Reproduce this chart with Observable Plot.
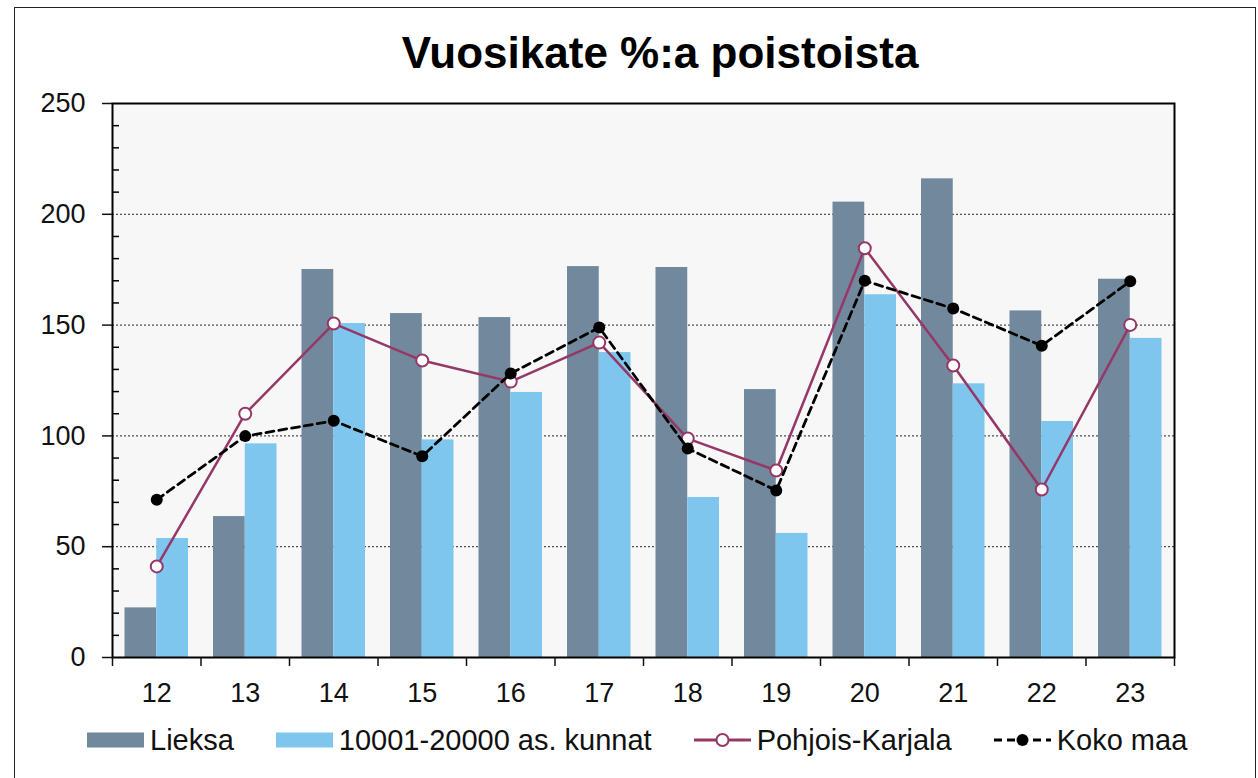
<!DOCTYPE html>
<html>
<head>
<meta charset="utf-8">
<script src="https://cdn.jsdelivr.net/npm/d3@7"></script>
<script src="https://cdn.jsdelivr.net/npm/@observablehq/plot@0.6"></script>
<style>
  html, body { margin: 0; padding: 0; background: #fff; }
  body { width: 1258px; height: 778px; position: relative; overflow: hidden; font-family: "Liberation Sans", Arial, sans-serif; }
  #frame { position: absolute; left: 14px; top: 7px; width: 1242px; height: 800px; border: 1.5px solid #222; box-sizing: border-box; }
  #title { position: absolute; left: 0; top: 28px; width: 1320px; text-align: center; font-size: 44px; line-height: 50px; font-weight: bold; color: #000; }
  #chart { position: absolute; left: 0; top: 0; }
  #legend { position: absolute; left: 87px; top: 724px; display: flex; align-items: center; font-size: 29px; line-height: 32px; color: #111; white-space: nowrap; }
  .item { display: flex; align-items: center; margin-right: 42px; }
  .item svg { margin-right: 6px; display: block; }
</style>
</head>
<body>
<div id="frame"></div>
<div id="chart"></div>
<div id="title">Vuosikate %:a poistoista</div>
<div id="legend"></div>
<script>
// ---- data ----
const years = ["12", "13", "14", "15", "16", "17", "18", "19", "20", "21", "22", "23"];
const lieksa = [22.4, 63.6, 175.1, 155.2, 153.4, 176.4, 176.0, 120.9, 205.5, 216.0, 156.4, 170.7];
const kunnat = [53.7, 96.4, 150.7, 98.2, 119.6, 137.6, 72.2, 56.0, 163.7, 123.5, 106.5, 144.0];
const pohjoisKarjala = [41.1, 110.0, 150.7, 134.0, 124.5, 142.1, 98.8, 84.4, 184.7, 131.8, 75.8, 150.1];
const kokoMaa = [71.2, 99.9, 106.8, 90.8, 128.2, 148.9, 94.3, 75.4, 170.0, 157.5, 140.7, 169.8];
const seriesNames = ["Lieksa", "10001-20000 as. kunnat", "Pohjois-Karjala", "Koko maa"];
const majorTicks = [0, 50, 100, 150, 200, 250];
const gridTicks = [50, 100, 150, 200];
const minorTicks = d3.range(10, 250, 10).filter(v => v % 50 !== 0);

const colors = { lieksa: "#71889D", kunnat: "#7EC6EE", pk: "#953868", koko: "#000000" };

const rows = years.map((y, i) => ({ year: y, lieksa: lieksa[i], kunnat: kunnat[i], pk: pohjoisKarjala[i], koko: kokoMaa[i] }));

// ---- layout ----
const W = 1258, H = 720;
const mL = 112, mR = 84, mT = 103, mB = 63;
const plotW = W - mL - mR;
const bw = plotW / years.length;
const outerGap = 12.5;
const font = "Liberation Sans, Arial, sans-serif";

const chart = Plot.plot({
  width: W, height: H,
  marginLeft: mL, marginRight: mR, marginTop: mT, marginBottom: mB,
  style: { fontFamily: font, background: "transparent", color: "#111", overflow: "visible" },
  x: { type: "band", domain: years, padding: 0, round: false, axis: null },
  y: { domain: [0, 250], axis: null },
  marks: [
    Plot.frame({ fill: "#F7F7F7" }),
    Plot.ruleY(gridTicks, { stroke: "#000", strokeWidth: 1, strokeDasharray: "2,2", strokeOpacity: 0.85 }),
    Plot.barY(rows, { x: "year", y: "lieksa", fill: colors.lieksa, insetLeft: outerGap, insetRight: bw / 2 }),
    Plot.barY(rows, { x: "year", y: "kunnat", fill: colors.kunnat, insetLeft: bw / 2, insetRight: outerGap }),
    Plot.line(rows, { x: "year", y: "pk", stroke: colors.pk, strokeWidth: 2.5 }),
    Plot.dot(rows, { x: "year", y: "pk", r: 6, fill: "white", stroke: colors.pk, strokeWidth: 2 }),
    Plot.line(rows, { x: "year", y: "koko", stroke: colors.koko, strokeWidth: 2.8, strokeDasharray: "8,5" }),
    Plot.dot(rows, { x: "year", y: "koko", r: 6, fill: colors.koko }),
    Plot.frame({ stroke: "#000", strokeWidth: 2 }),
    // minor inward ticks on y axis
    Plot.ruleY(minorTicks, { stroke: "#000", strokeWidth: 1.5, insetRight: plotW - 7 }),
    // major y axis
    Plot.axisY({ ticks: majorTicks, tickSize: 10, tickPadding: 17, fontSize: 27, label: null, strokeWidth: 1.5 }),
    // x category boundary ticks
    Plot.axisX({ ticks: years, tickSize: 9, tickFormat: () => "", dx: -bw / 2, label: null, strokeWidth: 1.5 }),
    Plot.axisX({ ticks: [years[years.length - 1]], tickSize: 9, tickFormat: () => "", dx: bw / 2, label: null, strokeWidth: 1.5 }),
    // x labels
    Plot.axisX({ ticks: years, tickSize: 0, tickPadding: 25, fontSize: 27, label: null })
  ]
});
document.getElementById("chart").appendChild(chart);

// ---- legend ----
const legend = document.getElementById("legend");
const swatches = [
  `<svg width="57" height="16"><rect x="0" y="0.5" width="57" height="15" fill="${colors.lieksa}"/></svg>`,
  `<svg width="57" height="16"><rect x="0" y="0.5" width="57" height="15" fill="${colors.kunnat}"/></svg>`,
  `<svg width="57" height="16"><line x1="0" y1="8" x2="57" y2="8" stroke="${colors.pk}" stroke-width="3"/><circle cx="28.5" cy="8" r="6" fill="white" stroke="${colors.pk}" stroke-width="2"/></svg>`,
  `<svg width="57" height="16"><line x1="0" y1="8" x2="57" y2="8" stroke="#000" stroke-width="3" stroke-dasharray="8,5"/><circle cx="28.5" cy="8" r="6" fill="#000"/></svg>`
];
seriesNames.forEach((name, i) => {
  const el = document.createElement("div");
  el.className = "item";
  el.innerHTML = swatches[i] + `<span>${name}</span>`;
  legend.appendChild(el);
});
</script>
</body>
</html>
